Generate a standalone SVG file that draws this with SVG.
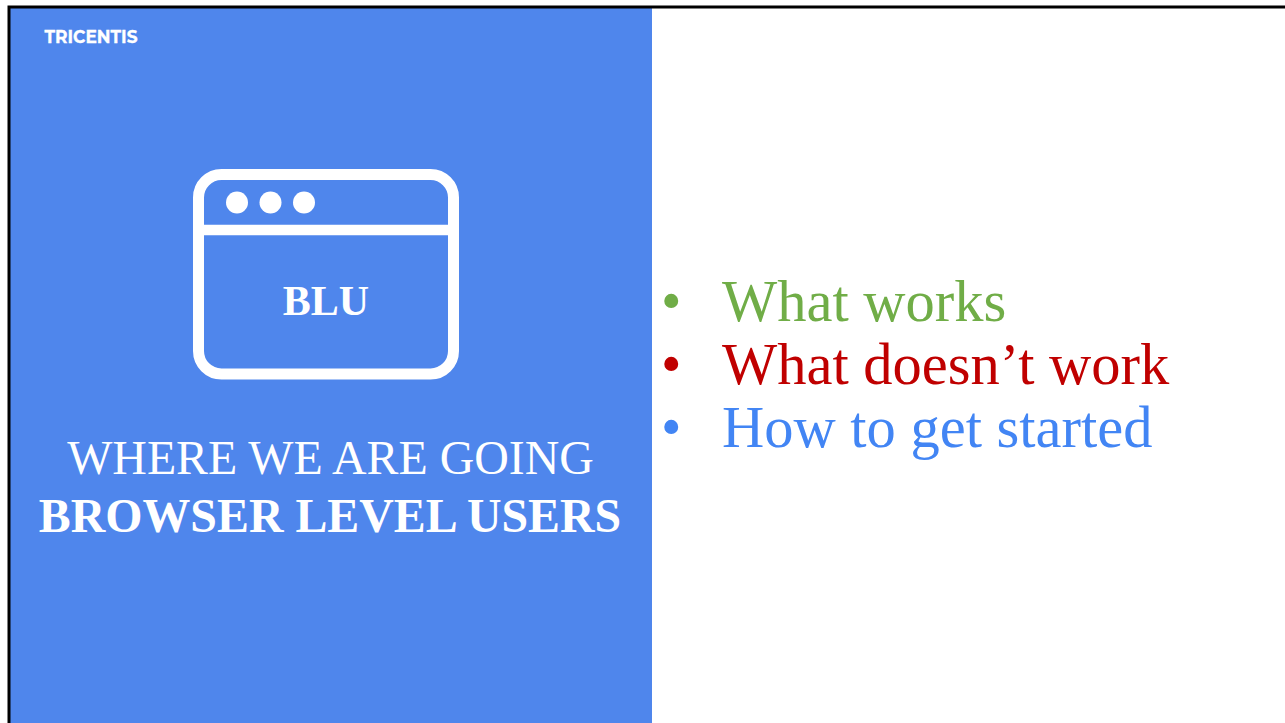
<svg xmlns="http://www.w3.org/2000/svg" width="1285" height="723" viewBox="0 0 1285 723">
<style>
.s{font-family:"Liberation Serif","Times New Roman",serif}
.l{font-size:58.5px}
.h{font-size:47.85px;fill:#fff;text-anchor:middle}
</style>
<rect width="1285" height="723" fill="#fff"/>
<rect x="9" y="7" width="643" height="716" fill="#4f86ec"/>
<path d="M9 723V7H1285" fill="none" stroke="#000" stroke-width="3"/>
<text x="44.500" y="43" font-family="Montserrat,Inter,'Liberation Sans',sans-serif" font-weight="700" font-size="18" textLength="93" lengthAdjust="spacingAndGlyphs" stroke="#fff" stroke-width="0.300" fill="#fff">TRICENTIS</text>
<g id="browser-icon">
<rect x="198.500" y="174.500" width="255" height="199.500" rx="23" fill="none" stroke="#fff" stroke-width="11"/>
<path d="M199 230H453" stroke="#fff" stroke-width="10.500"/>
<circle cx="237" cy="202.500" r="11" fill="#fff"/><circle cx="270.500" cy="202.500" r="11" fill="#fff"/><circle cx="304" cy="202.500" r="11" fill="#fff"/>
<text x="326" y="315" class="s" font-size="42" font-weight="700" fill="#fff" text-anchor="middle">BLU</text>
</g>
<text x="330.500" y="474" class="s h">WHERE WE ARE GOING</text>
<text x="330" y="532" class="s h" font-weight="700">BROWSER LEVEL USERS</text>
<g class="s l">
<text x="661" y="320.500" fill="#70ad47">•</text><text x="722" y="321" fill="#70ad47">What works</text>
<text x="661" y="383.500" fill="#c00000">•</text><text x="722" y="384" fill="#c00000">What doesn’t work</text>
<text x="661" y="446.500" fill="#4285f4">•</text><text x="722" y="447" fill="#4285f4">How to get started</text>
</g>
</svg>
